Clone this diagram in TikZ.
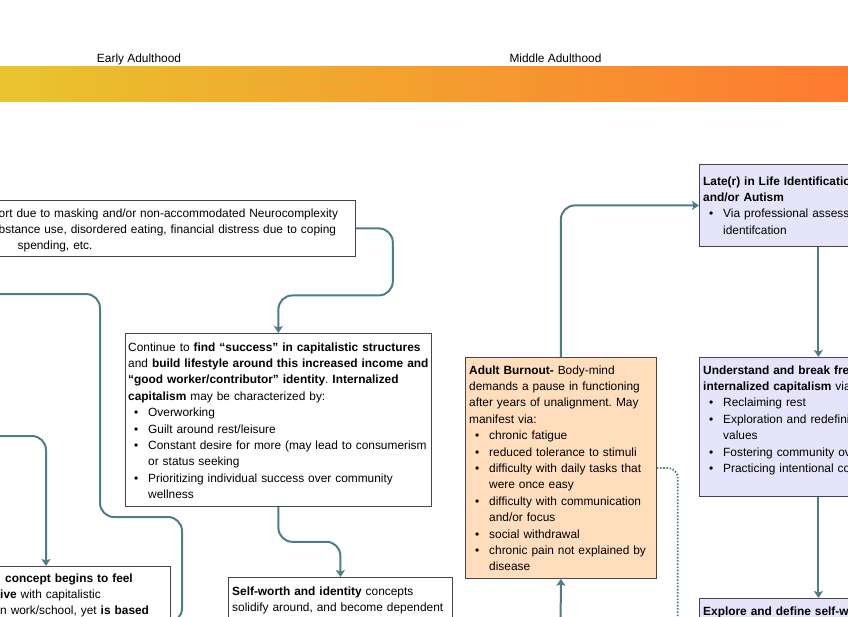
\documentclass[tikz,border=0pt]{standalone}
\usepackage{fontspec}
\setmainfont{Liberation Sans}
\usetikzlibrary{arrows.meta,calc}
\definecolor{conncol}{RGB}{78,125,136}
\definecolor{boxline}{RGB}{70,70,70}
\definecolor{peach}{RGB}{255,221,189}
\definecolor{lav}{RGB}{229,228,250}
\definecolor{hl}{RGB}{233,196,46}
\definecolor{hm}{RGB}{245,160,48}
\definecolor{hr}{RGB}{254,122,48}
\newcommand{\bul}[1]{\makebox[20pt][l]{\hspace*{6pt}•}#1}
\newcommand{\cnt}[1]{\hspace*{20pt}#1}
\frenchspacing
\begin{document}
\begin{tikzpicture}[x=1pt,y=-1pt,
  bx/.style={draw=boxline, line width=0.8pt, anchor=north west, inner sep=0pt},
  txt/.style={anchor=base west, inner sep=0pt, align=left, text width=#1,
    font=\fontsize{11.9}{16.4}\selectfont\frenchspacing},
  hdr/.style={anchor=base, inner sep=0pt, font=\fontsize{11.9}{14}\selectfont},
  cn/.style={draw=conncol, line width=2pt, rounded corners=14pt,
    -{Stealth[length=7pt,width=9pt,inset=1.5pt]}},
  dotln/.style={draw=conncol, line width=1.8pt, rounded corners=10pt,
    dash pattern=on 1.6pt off 1.6pt}]
\useasboundingbox (0,0) rectangle (848,616);
\clip (0,0) rectangle (848,616);
% header
\shade[left color=hl, middle color=hm, right color=hr] (0,66) rectangle (848,101);
\node[hdr] (h1) at (139,62) {Early Adulthood};
\node[hdr] (h2) at (555.5,62) {Middle Adulthood};
% boxes
\node[bx, fill=white, minimum width=375pt, minimum height=56pt] (b1) at (-20,200) {};
\node[bx, fill=white, minimum width=306pt, minimum height=173pt] (b2) at (125,333) {};
\node[bx, fill=white, minimum width=224pt, minimum height=103pt] (b3) at (228,577) {};
\node[bx, fill=white, minimum width=190pt, minimum height=112pt] (b4) at (-20,566) {};
\node[bx, fill=peach, minimum width=191pt, minimum height=221pt] (burn) at (465,357) {};
\node[bx, fill=lav, minimum width=238pt, minimum height=82pt] (late) at (699,164) {};
\node[bx, fill=lav, minimum width=238pt, minimum height=139pt] (und) at (699,357) {};
\node[bx, fill=lav, minimum width=238pt, minimum height=100pt] (expl) at (699,598) {};
% texts
\node[txt=400pt] (t1) at (-1.5,217) {ort due to masking and/or non-accommodated Neurocomplexity\\
bstance use, disordered eating, financial distress due to coping\\
\hspace*{19pt}spending, etc.};
\node[txt=360pt] (t2) at (128,351) {Continue to \textbf{find “success” in capitalistic structures}\\
and \textbf{build lifestyle around this increased income and}\\
\textbf{“good worker/contributor” identity}. \textbf{Internalized}\\
\textbf{capitalism} may be characterized by:\\
\bul{Overworking}\\
\bul{Guilt around rest/leisure}\\
\bul{Constant desire for more (may lead to consumerism}\\
\cnt{or status seeking}\\
\bul{Prioritizing individual success over community}\\
\cnt{wellness}};
\node[txt=240pt] (t3) at (232,595) {\textbf{Self-worth and identity} concepts\\
solidify around, and become dependent};
\node[txt=200pt] (t4) at (0,582) {\hspace*{5pt}\textbf{concept begins to feel}\\
\textbf{ive} with capitalistic\\
n work/school, yet \textbf{is based}};
\node[txt=200pt] (tb) at (469,374) {\textbf{Adult Burnout-} Body-mind\\
demands a pause in functioning\\
after years of unalignment. May\\
manifest via:\\
\bul{chronic fatigue}\\
\bul{reduced tolerance to stimuli}\\
\bul{difficulty with daily tasks that}\\
\cnt{were once easy}\\
\bul{difficulty with communication}\\
\cnt{and/or focus}\\
\bul{social withdrawal}\\
\bul{chronic pain not explained by}\\
\cnt{disease}};
\node[txt=240pt] (tl) at (703,185) {\textbf{Late(r) in Life Identification}\\
\textbf{and/or Autism}\\
\bul{Via professional assessment}\\
\cnt{identifcation}};
\node[txt=240pt] (tu) at (703,374) {\textbf{Understand and break free}\\
\textbf{internalized capitalism} via:\\
\bul{Reclaiming rest}\\
\bul{Exploration and redefining}\\
\cnt{values}\\
\bul{Fostering community over}\\
\bul{Practicing intentional consumption}};
\node[txt=240pt] (te) at (703,615) {\textbf{Explore and define self-worth}};
% free ends
\coordinate (l1) at (-10,436);
\coordinate (l2) at (-10,294);
\coordinate (l3) at (560.5,640);
% connectors
\draw[cn] (b1.east) -- ++(37,0) -- ++(0,67) -| (b2.north);
\draw[cn] (b2.south) -- ++(0,35) -| (b3.north);
\draw[cn] (l1) -| ($(b4.north west)+(66,0)$);
\draw[cn] (l2) -- ++(110,0) -- ++(0,223) -- ++(82,0) |- (b4.east);
\draw[cn] (burn.north) |- (late.west);
\draw[cn] (l3) -- (burn.south);
\draw[dotln] (burn.east) -- ++(21,0) -- ++(0,200);
\draw[cn] (late.south) -- (und.north);
\draw[cn] (und.south) -- (expl.north);
\end{tikzpicture}
\end{document}
